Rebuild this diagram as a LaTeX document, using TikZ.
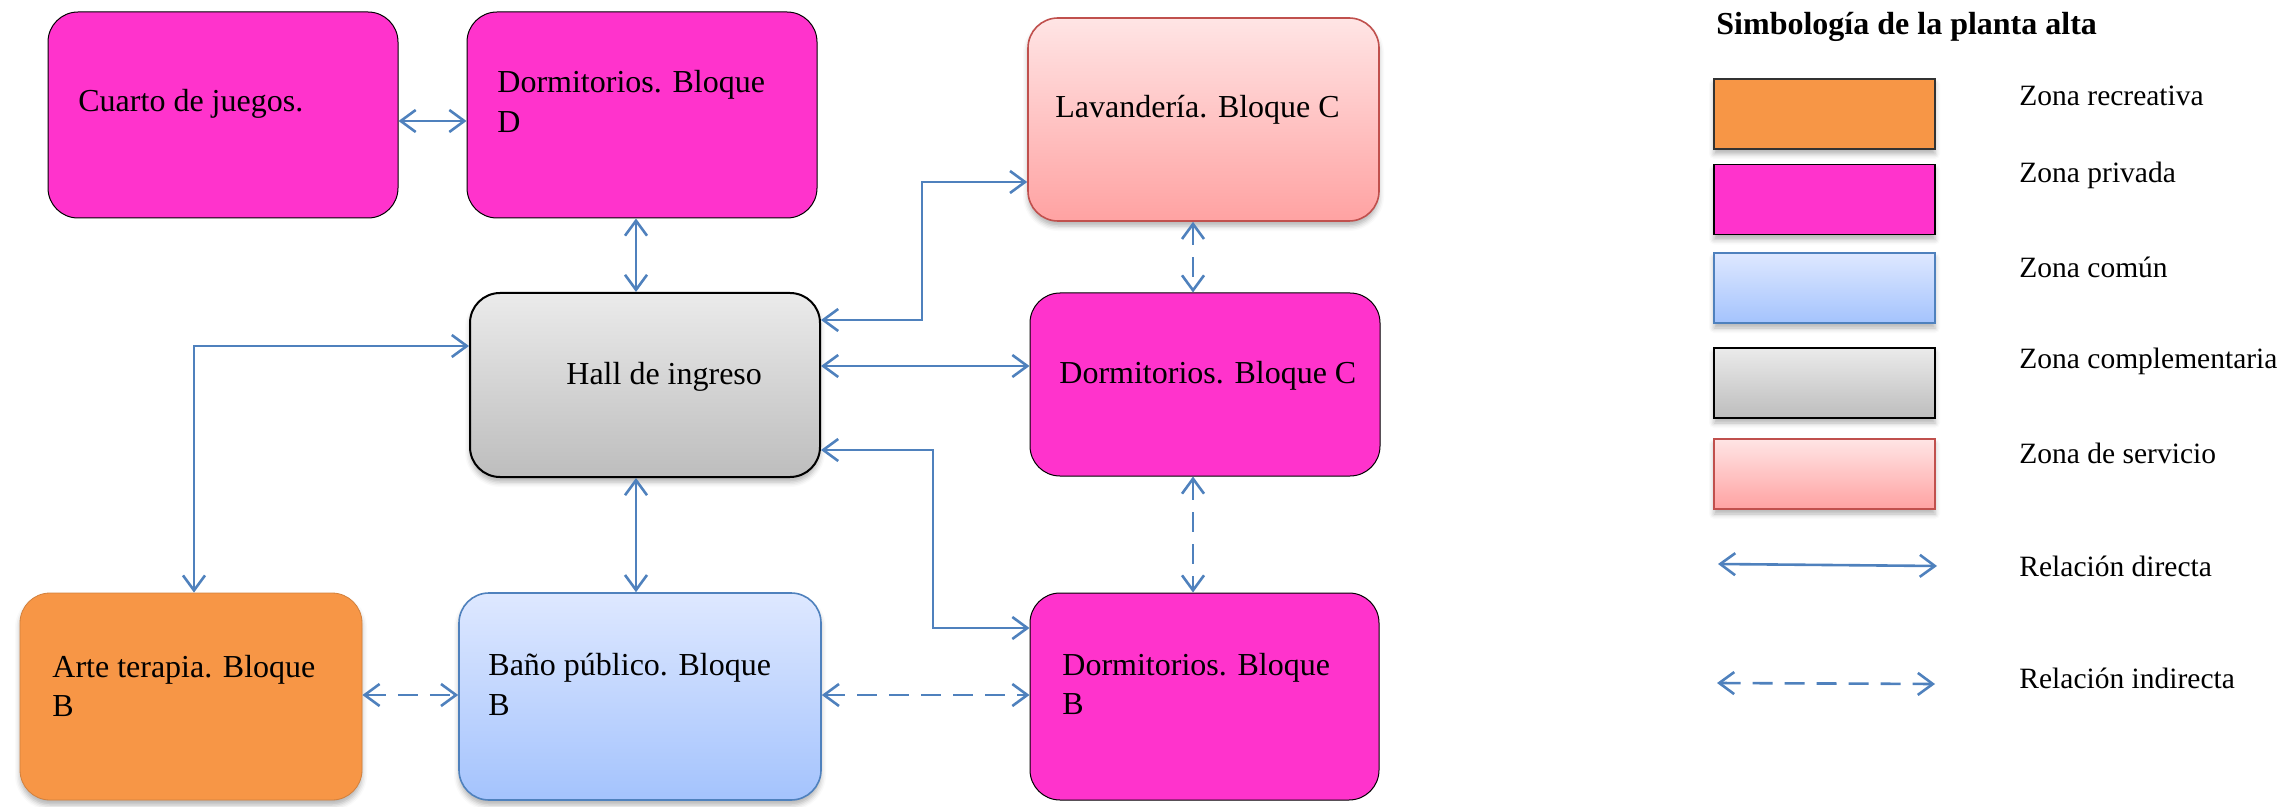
\documentclass[tikz,border=0pt]{standalone}
\usepackage{fontspec}
\setmainfont{Liberation Serif}
\usetikzlibrary{arrows.meta,shadows.blur}

\definecolor{privada}{HTML}{FF33CC}
\definecolor{recreativa}{HTML}{F79646}
\definecolor{hallTop}{HTML}{EBEBEB}
\definecolor{hallBot}{HTML}{BDBDBD}
\definecolor{servTop}{HTML}{FFE5E5}
\definecolor{servBot}{HTML}{FFA2A2}
\definecolor{servLine}{HTML}{C0504D}
\definecolor{comunTop}{HTML}{DEE8FF}
\definecolor{comunBot}{HTML}{A4C3FD}
\definecolor{comunLine}{HTML}{4F81BD}
\definecolor{link}{HTML}{4F81BD}

\tikzset{
  zone/.style={rectangle, rounded corners=15pt, inner sep=0pt},
  softshadow/.style={blur shadow={shadow xshift=0pt, shadow yshift=-2.5pt,
      shadow blur radius=2.5pt, shadow opacity=30}},
  privbox/.style={zone, fill=privada, draw=black, line width=0.5pt},
  hallbox/.style={zone, top color=hallTop, bottom color=hallBot, draw=black,
      line width=1pt, softshadow},
  servbox/.style={zone, top color=servTop, bottom color=servBot, draw=servLine,
      line width=0.8pt, softshadow},
  comunbox/.style={zone, top color=comunTop, bottom color=comunBot, draw=comunLine,
      line width=0.8pt, softshadow},
  recbox/.style={zone, fill=recreativa, draw=recreativa!85!black, line width=0.4pt,
      softshadow},
  keybox/.style={rectangle, inner sep=0pt, minimum width=110.5pt, minimum height=35pt,
      line width=0.7pt, softshadow},
  boxtext/.style={anchor=base west, inner sep=0pt, font=\fontsize{16}{20}\selectfont},
  keytext/.style={anchor=base west, inner sep=0pt, font=\fontsize{14.75}{18}\selectfont},
  keytitle/.style={anchor=base west, inner sep=0pt, font=\fontsize{16}{20}\selectfont\bfseries},
  barb/.tip={Straight Barb[length=7.5pt,width=11pt]},
  rel/.style={draw=link, line width=1.3pt, barb-barb},
  relind/.style={rel, dash pattern=on 10pt off 6pt},
}

\begin{document}
\begin{tikzpicture}[x=0.5pt,y=-0.5pt]
\useasboundingbox (0,0) rectangle (2284,807);

% zone boxes
\node[privbox, minimum width=175pt, minimum height=103pt] (cuarto) at (223,115) {};
\node[privbox, minimum width=175pt, minimum height=103pt] (dormD) at (642,115) {};
\node[servbox, minimum width=175.5pt, minimum height=101.5pt] (lav) at (1203.5,119.5) {};
\node[hallbox, minimum width=175pt, minimum height=92pt] (hall) at (645,385) {};
\node[privbox, minimum width=175pt, minimum height=91.5pt] (dormC) at (1205,384.5) {};
\node[recbox, minimum width=171pt, minimum height=103.5pt] (arte) at (191,696.5) {};
\node[comunbox, minimum width=181pt, minimum height=103.5pt] (bano) at (640,696.5) {};
\node[privbox, minimum width=174.5pt, minimum height=103.5pt] (dormB) at (1204.5,696.5) {};

% box texts
\node[boxtext] (cuartoT) at (78,112) {Cuarto de juegos.};
\node[boxtext] (dormDT1) at (497,93) {Dormitorios. Bloque};
\node[boxtext] (dormDT2) at (497,133) {D};
\node[boxtext] (lavT) at (1055,118) {Lavandería. Bloque C};
\node[boxtext] (hallT) at (566,385) {Hall de ingreso};
\node[boxtext] (dormCT) at (1059,383) {Dormitorios. Bloque C};
\node[boxtext] (arteT1) at (52,677) {Arte terapia. Bloque};
\node[boxtext] (arteT2) at (52,716) {B};
\node[boxtext] (banoT1) at (488,675) {Baño público. Bloque};
\node[boxtext] (banoT2) at (488,715) {B};
\node[boxtext] (dormBT1) at (1062,675) {Dormitorios. Bloque};
\node[boxtext] (dormBT2) at (1062,714) {B};

% routing points
\coordinate (topY) at (0,121);
\coordinate (hallX) at (636,0);
\coordinate (lavLow) at (922,320);
\coordinate (lavHigh) at (922,182);
\coordinate (dormCY) at (0,366);
\coordinate (arteTurn) at (194,346);
\coordinate (dormBHigh) at (933,450);
\coordinate (dormBLow) at (933,628);
\coordinate (dashX) at (1193,0);
\coordinate (dashY) at (0,695);

% direct relations
\draw[rel] (cuarto.east |- topY) -- (dormD.west |- topY);
\draw[rel] (dormD.south -| hallX) -- (hall.north -| hallX);
\draw[rel] (hall.south -| hallX) -- (bano.north -| hallX);
\draw[rel] (hall.east |- lavLow) -- (lavLow) -- (lavHigh) -- (lav.west |- lavHigh);
\draw[rel] (hall.east |- dormCY) -- (dormC.west |- dormCY);
\draw[rel] (hall.west |- arteTurn) -- (arteTurn) -- (arte.north -| arteTurn);
\draw[rel] (hall.east |- dormBHigh) -- (dormBHigh) -- (dormBLow) -- (dormB.west |- dormBLow);

% indirect relations
\draw[relind] (lav.south -| dashX) -- (dormC.north -| dashX);
\draw[relind] (dormC.south -| dashX) -- (dormB.north -| dashX);
\draw[relind] (arte.east |- dashY) -- (bano.west |- dashY);
\draw[relind] (bano.east |- dashY) -- (dormB.west |- dashY);

% key
\node[keytitle] (keyTitle) at (1716,35) {Simbología de la planta alta};
\node[keybox, fill=recreativa, draw=black!80] (keyRec) at (1824.5,114) {};
\node[keybox, fill=privada, draw=black] (keyPriv) at (1824.5,199.5) {};
\node[keybox, top color=comunTop, bottom color=comunBot, draw=comunLine] (keyCom) at (1824.5,288) {};
\node[keybox, top color=hallTop, bottom color=hallBot, draw=black, line width=1pt] (keyComp) at (1824.5,383) {};
\node[keybox, top color=servTop, bottom color=servBot, draw=servLine] (keyServ) at (1824.5,474) {};

\node[keytext] (keyRecT) at (2019,106) {Zona recreativa};
\node[keytext] (keyPrivT) at (2019,183) {Zona privada};
\node[keytext] (keyComT) at (2019,278) {Zona común};
\node[keytext] (keyCompT) at (2019,369) {Zona complementaria};
\node[keytext] (keyServT) at (2019,463) {Zona de servicio};
\node[keytext] (keyDirT) at (2019,576) {Relación directa};
\node[keytext] (keyIndT) at (2019,688) {Relación indirecta};

\coordinate (dirA) at (1718,564);
\coordinate (dirB) at (1937,566);
\coordinate (indA) at (1717,683);
\coordinate (indB) at (1935,684);
\draw[rel] (dirA) -- (dirB);
\draw[relind] (indA) -- (indB);
\end{tikzpicture}
\end{document}
